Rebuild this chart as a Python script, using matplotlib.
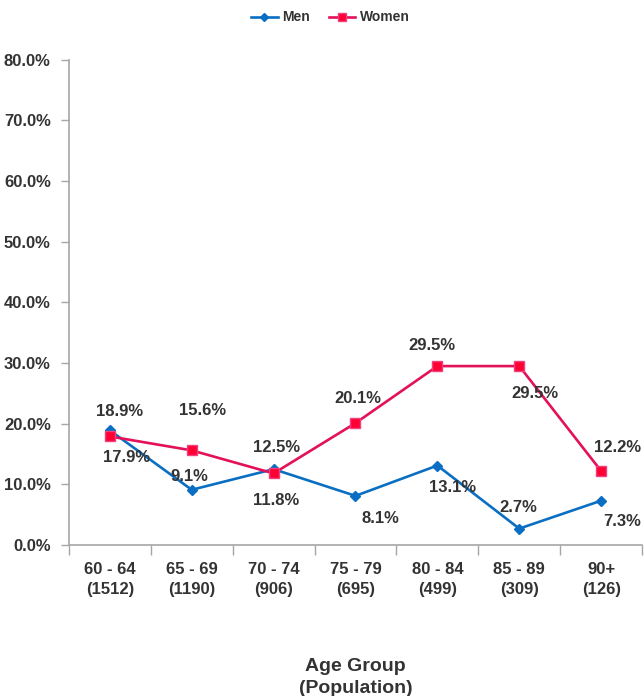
import matplotlib.pyplot as plt
import numpy as np

plt.rcParams['font.family'] = ['Liberation Sans Narrow', 'Liberation Sans', 'DejaVu Sans']
plt.rcParams['font.weight'] = 'bold'

groups = ['60 - 64\n(1512)', '65 - 69\n(1190)', '70 - 74\n(906)', '75 - 79\n(695)',
          '80 - 84\n(499)', '85 - 89\n(309)', '90+\n(126)']
men = [18.9, 9.1, 12.5, 8.1, 13.1, 2.7, 7.3]
women = [17.9, 15.6, 11.8, 20.1, 29.5, 29.5, 12.2]

# label offsets in pixels (dx, dy)
men_off = [(10, 19), (-2, 13), (3, 22), (25, -23), (15, -22), (-1, 21), (21, -21)]
women_off = [(17, -21), (11, 40), (3, -27), (2, 25), (-5, 21), (16, -27), (16, 23)]

txt = '#333333'
axc = '#a6a6a6'
blue = '#0a6fc2'
red = '#e3105a'

fig = plt.figure(figsize=(6.44, 6.96), dpi=100)
ax = fig.add_axes([0.107, 0.217, 0.890, 0.697])
x = np.arange(len(groups))

ax.plot(x, men, color=blue, lw=1.9, marker='D', ms=5, mfc=blue, mec=blue, label='Men')
ax.plot(x, women, color=red, lw=1.9, marker='s', ms=6.5, mfc='#ff0033', mec='#f04080', label='Women')

for i in range(len(x)):
    ax.annotate('%.1f%%' % men[i], (x[i], men[i]), xytext=men_off[i], textcoords='offset pixels',
                ha='center', va='center', fontsize=12, color=txt, fontweight='bold')
    ax.annotate('%.1f%%' % women[i], (x[i], women[i]), xytext=women_off[i], textcoords='offset pixels',
                ha='center', va='center', fontsize=12, color=txt, fontweight='bold')

ax.set_xlim(-0.5, len(groups) - 0.5)
ax.set_ylim(0, 80)
ax.set_yticks(np.arange(0, 81, 10))
ax.set_yticklabels(['%.1f%%' % v for v in np.arange(0, 81, 10)])
ax.set_xticks(x)
ax.set_xticklabels(groups, linespacing=1.45)
ax.set_xticks(np.arange(-0.5, len(groups), 1), minor=True)
ax.tick_params(axis='x', which='major', length=0, pad=12, labelsize=12, labelcolor=txt)
ax.tick_params(axis='x', which='minor', length=7, color=axc, width=1)
ax.tick_params(axis='y', length=6, color=axc, width=1, pad=7, labelsize=12, labelcolor=txt)

for s in ['top', 'right']:
    ax.spines[s].set_visible(False)
for s in ['left', 'bottom']:
    ax.spines[s].set_color(axc)
    ax.spines[s].set_linewidth(1.2)

ax.set_xlabel('Age Group\n(Population)', fontsize=14, color=txt, fontweight='bold', labelpad=44,
              linespacing=1.35)

fig.legend(loc='upper center', bbox_to_anchor=(0.513, 1.003), ncol=2, frameon=False,
           fontsize=10, handlelength=1.9, handletextpad=0.3, columnspacing=1.4,
           labelcolor=txt, markerscale=0.8)

fig.savefig('out.png', dpi=100)
